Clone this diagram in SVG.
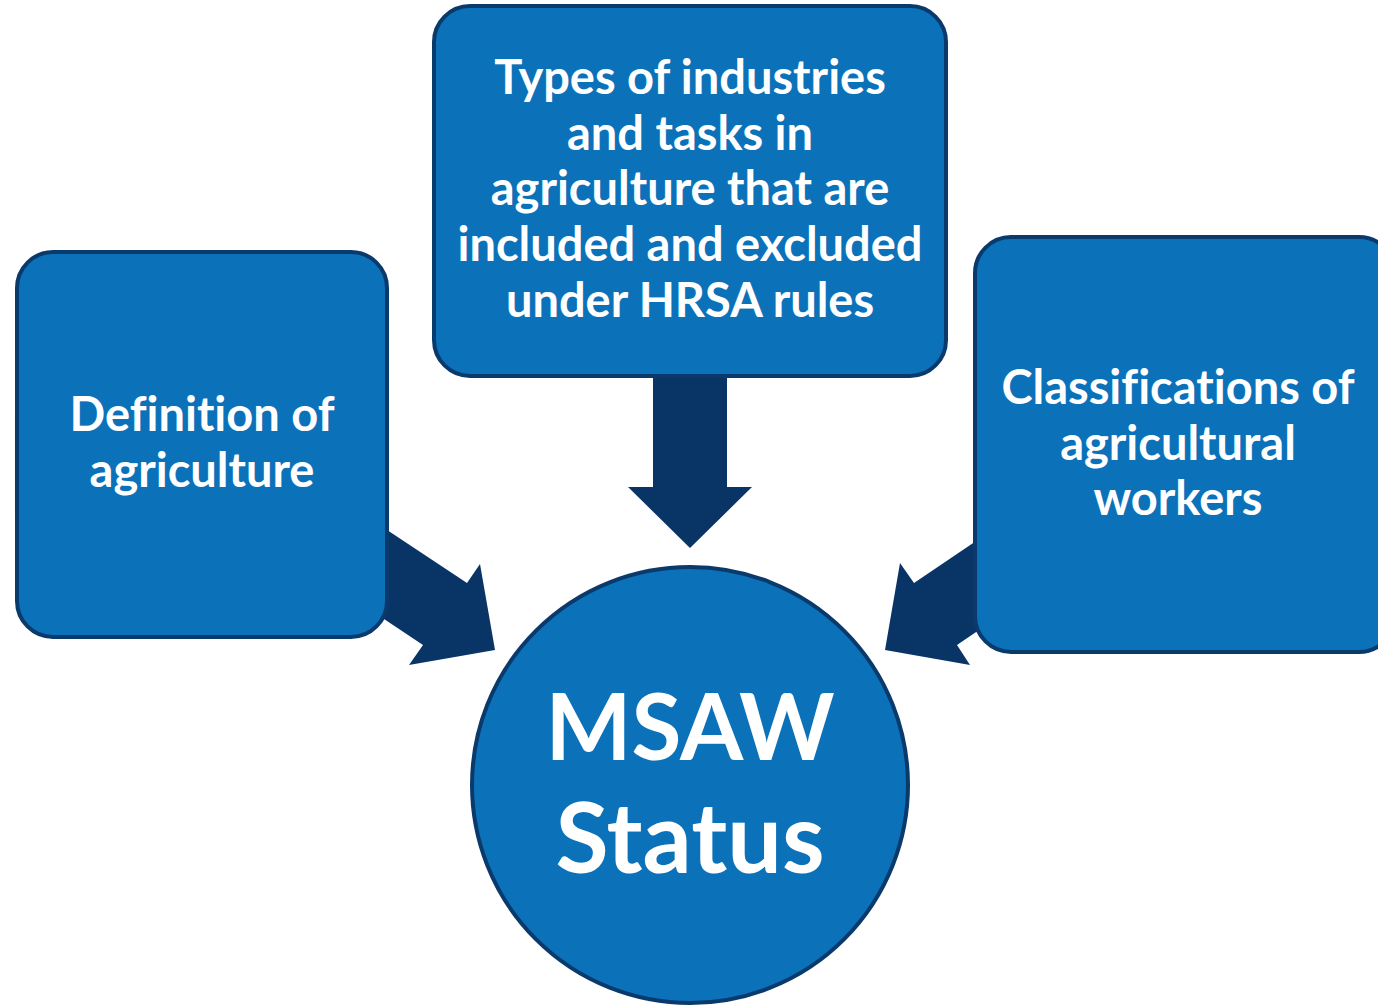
<svg xmlns="http://www.w3.org/2000/svg" width="1378" height="1005" viewBox="0 0 1378 1005">
<style>
.node{fill:#0B72BA;stroke:#0A3A6C;stroke-width:4}
.arrow{fill:#093566}
.t{font-family:Lato,"Liberation Sans",sans-serif;font-weight:bold;fill:#FFFFFF;text-anchor:middle;font-size:47px;font-variant-ligatures:none;font-feature-settings:"liga" 0}
.big{font-size:94px}
</style>
<rect width="1378" height="1005" fill="#FFFFFF"/>
<g id="connectors">
<polygon class="arrow" points="653,370 727,370 727,487 752,487 690,548 628,487 653,487"/>
<polygon class="arrow" points="375,522 467,583 480,564 495,650 409,665 423,645 372,611"/>
<polygon class="arrow" points="985,535 914,583 900,563 885,650 970,665 957,645 985,626"/>
</g>
<g id="node-definition">
<rect class="node" x="17" y="252" width="370" height="385" rx="36"/>
<text class="t" x="202" y="431">Definition of</text>
<text class="t" x="202" y="487">agriculture</text>
</g>
<g id="node-types">
<rect class="node" x="434" y="6" width="512" height="370" rx="36"/>
<text class="t" x="690" y="94">Types of industries</text>
<text class="t" x="690" y="150">and tasks in</text>
<text class="t" x="690" y="205">agriculture that are</text>
<text class="t" x="690" y="261">included and excluded</text>
<text class="t" x="690" y="317">under HRSA rules</text>
</g>
<g id="node-classifications">
<rect class="node" x="975" y="237" width="420" height="415" rx="36"/>
<text class="t" x="1178" y="404">Classifications of</text>
<text class="t" x="1178" y="460">agricultural</text>
<text class="t" x="1178" y="515">workers</text>
</g>
<g id="node-msaw">
<circle class="node" cx="690" cy="785" r="218"/>
<text class="t big" x="690" y="760" style="font-size:91px">MSAW</text>
<text class="t big" x="690" y="873" style="font-size:97px">Status</text>
</g>
</svg>
